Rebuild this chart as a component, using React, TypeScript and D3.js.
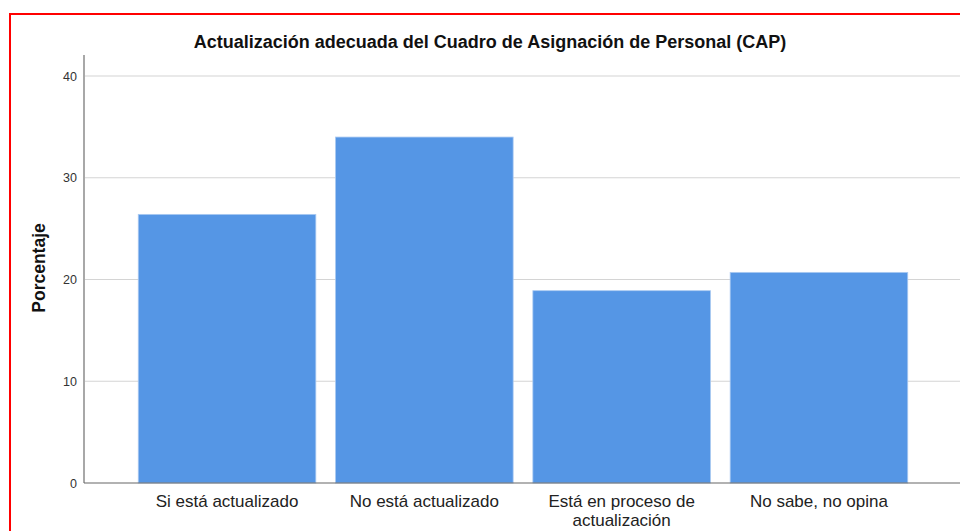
import { useEffect, useRef } from "react"
import * as d3 from "d3"

const categories = ["Si está actualizado", "No está actualizado", "Está en proceso de actualización", "No sabe, no opina"]
const categoryLines = [["Si está actualizado"], ["No está actualizado"], ["Está en proceso de", "actualización"], ["No sabe, no opina"]]
const percentages = [26.4, 34.0, 18.9, 20.7]
const yTicks = [0, 10, 20, 30, 40]

const title = "Actualización adecuada del Cuadro de Asignación de Personal (CAP)"
const yLabel = "Porcentaje"

export default function App() {
  const svgRef = useRef<SVGSVGElement>(null)

  useEffect(() => {
    if (!svgRef.current) return
    const width = 960
    const height = 531
    const svg = d3.select(svgRef.current)
    svg.selectAll("*").remove()
    svg.attr("width", width).attr("height", height)

    const font = "'Liberation Sans', Arial, sans-serif"

    svg.append("rect").attr("width", width).attr("height", height).attr("fill", "#fff")

    // red frame (right/bottom edges run off the page)
    svg.append("rect")
      .attr("x", 10)
      .attr("y", 14)
      .attr("width", 1000)
      .attr("height", 600)
      .attr("fill", "none")
      .attr("stroke", "#ff0000")
      .attr("stroke-width", 2)

    const left = 84
    const right = 962
    const y = d3.scaleLinear().domain([0, 40]).range([483, 76])
    const x = d3.scaleBand<string>()
      .domain(categories)
      .range([left, right])
      .paddingInner(0.1)
      .paddingOuter(0.275)

    // gridlines
    svg.append("g")
      .selectAll("line")
      .data(yTicks.filter((t) => t > 0))
      .join("line")
      .attr("x1", left)
      .attr("x2", width)
      .attr("y1", (d) => y(d))
      .attr("y2", (d) => y(d))
      .attr("stroke", "#d4d4d4")
      .attr("stroke-width", 1.2)

    // tick labels
    svg.append("g")
      .selectAll("text")
      .data(yTicks)
      .join("text")
      .attr("x", 77)
      .attr("y", (d) => y(d))
      .attr("dy", "0.36em")
      .attr("text-anchor", "end")
      .attr("font-family", font)
      .attr("font-size", 12.5)
      .attr("fill", "#333")
      .text((d) => d)

    // bars
    svg.append("g")
      .selectAll("rect")
      .data(percentages)
      .join("rect")
      .attr("x", (d, i) => x(categories[i])!)
      .attr("y", (d) => y(d))
      .attr("width", x.bandwidth())
      .attr("height", (d) => y(0) - y(d))
      .attr("fill", "#5596e5")
      .attr("stroke", "#a9c9f1")
      .attr("stroke-width", 0.8)

    // axes
    svg.append("line")
      .attr("x1", left)
      .attr("x2", left)
      .attr("y1", 55)
      .attr("y2", y(0))
      .attr("stroke", "#a8a8a8")
      .attr("stroke-width", 2)

    svg.append("line")
      .attr("x1", left)
      .attr("x2", width)
      .attr("y1", y(0))
      .attr("y2", y(0))
      .attr("stroke", "#666")
      .attr("stroke-width", 1.2)

    // category labels
    categoryLines.forEach((lines, i) => {
      const cx = x(categories[i])! + x.bandwidth() / 2
      lines.forEach((line, j) => {
        svg.append("text")
          .attr("x", cx)
          .attr("y", 507 + j * 18.5)
          .attr("text-anchor", "middle")
          .attr("font-family", font)
          .attr("font-size", 17)
          .attr("fill", "#222")
          .text(line)
      })
    })

    // title
    svg.append("text")
      .attr("x", 490)
      .attr("y", 47.5)
      .attr("text-anchor", "middle")
      .attr("font-family", font)
      .attr("font-size", 18)
      .attr("font-weight", "bold")
      .attr("fill", "#111")
      .text(title)

    // y label
    svg.append("text")
      .attr("transform", "translate(45,268) rotate(-90)")
      .attr("text-anchor", "middle")
      .attr("font-family", font)
      .attr("font-size", 17.5)
      .attr("font-weight", "bold")
      .attr("fill", "#111")
      .text(yLabel)
  }, [])

  return (
    <div style={{ position: "absolute", left: 0, top: 0 }}>
      <svg ref={svgRef} style={{ display: "block" }} />
    </div>
  )
}
